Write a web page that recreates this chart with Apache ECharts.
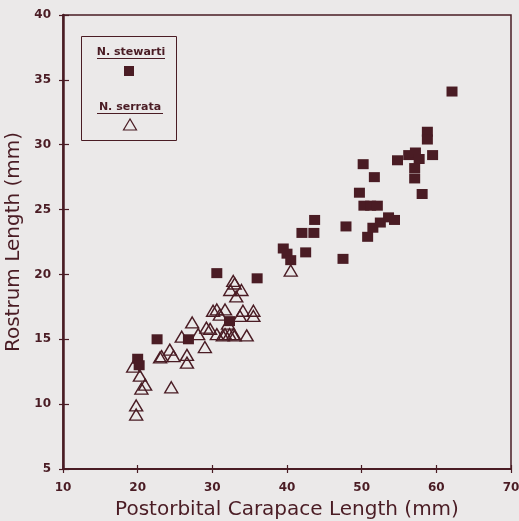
<!DOCTYPE html>
<html><head><meta charset="utf-8">
<script src="https://cdn.jsdelivr.net/npm/echarts@6/dist/echarts.min.js"></script>
<style>html,body{margin:0;padding:0;background:#ebe9e9}#c{width:519px;height:521px}</style>
</head><body><div id="c"></div>
<script>
const xTicks = [10,20,30,40,50,60,70];
const yTicks = [5,10,15,20,25,30,35,40];
const stewarti = [
 [20.0,13.5],[20.2,13.0],[22.6,15.0],[26.8,15.0],[30.6,20.1],[32.3,16.4],[36.0,19.7],
 [39.5,22.0],[40.0,21.6],[40.5,21.1],[42.0,23.2],[43.6,23.2],[43.7,24.2],[42.5,21.7],
 [47.5,21.2],[47.9,23.7],[49.7,26.3],[50.2,28.5],[51.7,27.5],[50.3,25.3],[51.2,25.3],
 [52.1,25.3],[50.8,22.9],[51.5,23.6],[52.5,24.0],[53.6,24.4],[54.4,24.2],[54.8,28.8],
 [56.3,29.2],[57.2,29.4],[57.7,28.9],[57.1,28.2],[57.1,27.4],[58.1,26.2],[58.8,31.0],
 [58.8,30.4],[59.5,29.2],[62.1,34.1]
];
const serrata = [
 [19.4,12.9],[20.3,12.2],[21.0,11.5],[20.5,11.2],[19.8,9.9],[19.8,9.2],[24.5,11.3],
 [23.0,13.6],[23.2,13.7],[24.3,14.2],[24.8,13.7],[26.6,13.8],[26.6,13.2],[27.3,16.3],
 [25.9,15.2],[29.0,14.4],[28.1,15.4],[29.2,15.9],[29.7,15.8],[30.1,17.2],[30.6,17.3],
 [31.0,16.9],[30.6,15.4],[31.4,15.3],[31.7,15.4],[32.3,15.4],[32.8,15.4],[33.0,15.3],
 [34.6,15.3],[31.7,17.3],[32.1,16.2],[32.8,19.5],[33.0,19.3],[32.4,18.8],[33.9,18.8],
 [33.2,18.3],[34.1,17.2],[33.7,16.8],[35.5,17.2],[35.5,16.8],[40.5,20.3]
];
const seriesNames = ['N. stewarti','N. serrata'];
const xName = 'Postorbital Carapace Length (mm)';
const yName = 'Rostrum Length (mm)';

const C = '#4a1c24';
const FF = 'DejaVu Sans, Liberation Sans, Arial';
const chart = echarts.init(document.getElementById('c'));
const lblFont = {color:C, fontWeight:'bold', fontSize:12, fontFamily:FF};
function xa(main){
  return {type:'value', min:xTicks[0], max:xTicks[xTicks.length-1], interval:10, position:'bottom',
    name: main?xName:'', nameLocation:'middle', nameGap:31,
    nameTextStyle:{color:C, fontSize:20, fontFamily:FF},
    axisLine:{show:main, lineStyle:{color:C, width:2}},
    axisTick:{show:true, inside:!main, length:4, lineStyle:{color:C, width:1.2}},
    axisLabel:{show:main, margin:13, ...lblFont},
    splitLine:{show:false}};
}
function ya(main){
  return {type:'value', min:yTicks[0], max:yTicks[yTicks.length-1], interval:5, position:'left',
    name: main?yName:'', nameLocation:'middle', nameGap:34,
    nameTextStyle:{color:C, fontSize:20, fontFamily:FF},
    axisLine:{show:main, lineStyle:{color:C, width:2.5}},
    axisTick:{show:true, inside:!main, length:main?4:6, lineStyle:{color:C, width:1.2}},
    axisLabel:{show:main, margin:12, ...lblFont},
    splitLine:{show:false}};
}
chart.setOption({
  backgroundColor:'#ebe9e9',
  animation:false,
  grid:{left:63, right:8, top:15, bottom:52, show:true, borderColor:C, borderWidth:1.5,
        backgroundColor:'transparent', containLabel:false, outerBoundsMode:'none'},
  xAxis:[xa(true), xa(false)],
  yAxis:[ya(true), ya(false)],
  series:[
    {name:seriesNames[0], type:'scatter', data:stewarti, symbol:'rect', symbolSize:[11,10],
     itemStyle:{color:C, opacity:1}, z:3},
    {name:seriesNames[1], type:'scatter', data:serrata, symbol:'triangle', symbolSize:[13,11],
     itemStyle:{color:'rgba(0,0,0,0)', borderColor:C, borderWidth:1.4, opacity:1}, z:2}
  ],
  graphic:[
    {type:'rect', shape:{x:81.5, y:36.5, width:95, height:104}, style:{fill:'none', stroke:C, lineWidth:1}},
    {type:'text', x:131, y:52, style:{text:seriesNames[0], fill:C, font:'bold 11px DejaVu Sans', textAlign:'center', textVerticalAlign:'middle'}},
    {type:'line', shape:{x1:97, y1:58.5, x2:165, y2:58.5}, style:{stroke:C, lineWidth:1}},
    {type:'rect', shape:{x:124, y:66, width:10, height:10}, style:{fill:C}},
    {type:'text', x:130, y:107, style:{text:seriesNames[1], fill:C, font:'bold 11px DejaVu Sans', textAlign:'center', textVerticalAlign:'middle'}},
    {type:'line', shape:{x1:97, y1:113.5, x2:163, y2:113.5}, style:{stroke:C, lineWidth:1}},
    {type:'polygon', shape:{points:[[130,119],[123.5,130],[136.5,130]]}, style:{fill:'none', stroke:C, lineWidth:1.2}}
  ]
});
</script></body></html>
